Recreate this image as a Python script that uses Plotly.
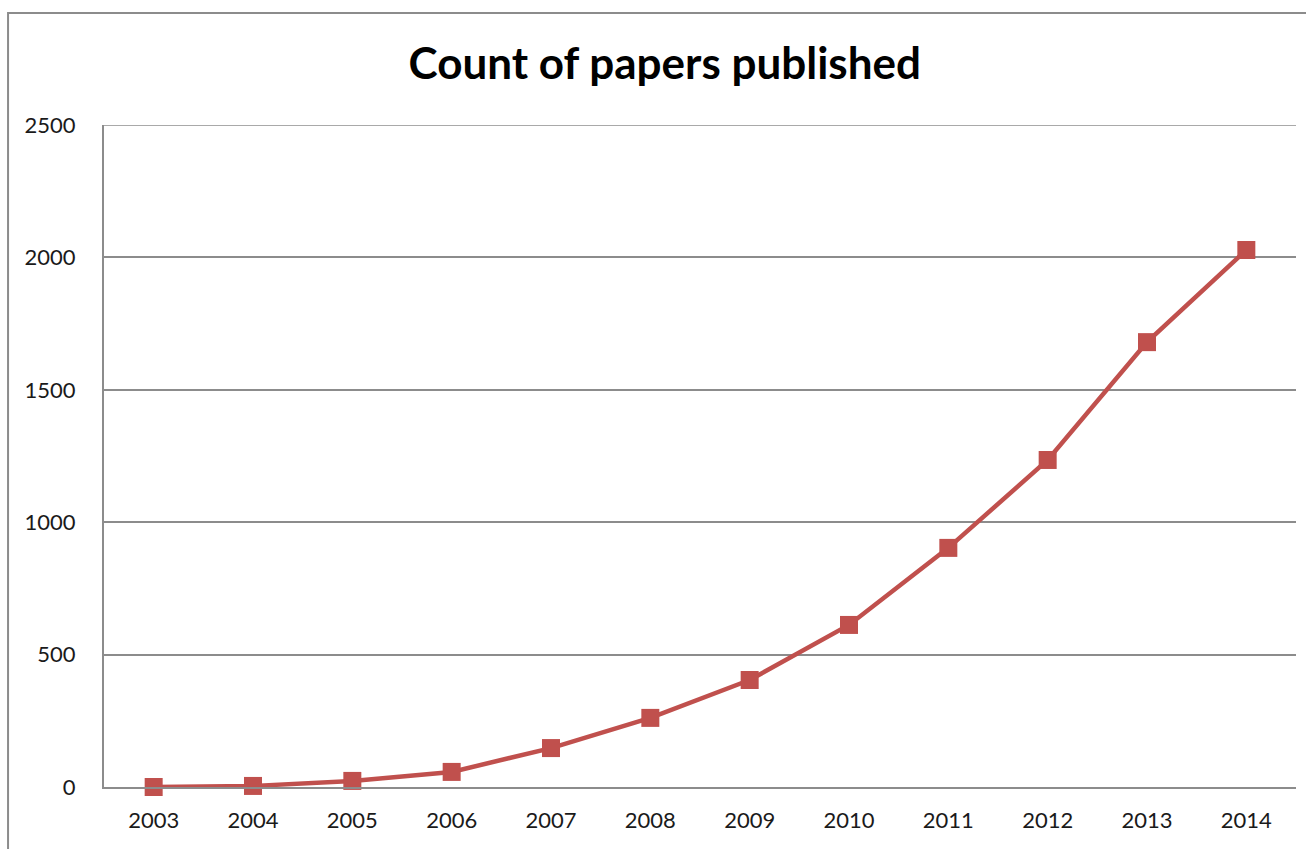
import plotly.graph_objects as go

years = ["2003", "2004", "2005", "2006", "2007", "2008", "2009", "2010", "2011", "2012", "2013", "2014"]
papers = [0, 4, 23, 57, 147, 261, 404, 612, 903, 1235, 1680, 2028]
y_ticks = [0, 500, 1000, 1500, 2000, 2500]

fig = go.Figure()
fig.add_trace(go.Scatter(
    x=years, y=papers, mode="lines+markers",
    line=dict(color="#C0504D", width=4.5),
    marker=dict(symbol="square", size=18, color="#C0504D"),
    cliponaxis=False,
))

fig.update_layout(
    width=1306, height=849,
    margin=dict(l=104, r=10, t=125, b=62),
    paper_bgcolor="white", plot_bgcolor="white",
    showlegend=False,
    font=dict(family="Lato, Open Sans, sans-serif", color="#1a1a1a", size=22),
    title=dict(text="<b>Count of papers published</b>", x=0.509, xanchor="center",
               y=0.925, yanchor="middle", font=dict(size=44, color="#000000")),
    xaxis=dict(type="category", range=[-0.5, 11.5], showgrid=False,
               showline=True, linecolor="#8c8c8c", linewidth=2,
               ticks="", ticklabelstandoff=13, tickfont=dict(size=22)),
    yaxis=dict(range=[0, 2500], tickvals=y_ticks, showgrid=True, gridcolor="#8c8c8c",
               gridwidth=1.5, showline=True, linecolor="#8c8c8c", linewidth=2,
               zeroline=False, ticks="", ticklabelstandoff=22, tickfont=dict(size=22)),
)

# top gridline at the range edge (plotly skips it)
fig.add_shape(type="line", xref="paper", yref="y", x0=0, x1=1, y0=y_ticks[-1], y1=y_ticks[-1],
              line=dict(color="#8c8c8c", width=1.5), layer="below")

fig.add_shape(type="rect", xref="paper", yref="paper",
              x0=-0.0805, x1=1.05, y0=-0.3, y1=1.169,
              line=dict(color="#8c8c8c", width=2), layer="below")

fig.write_html("out.html")
